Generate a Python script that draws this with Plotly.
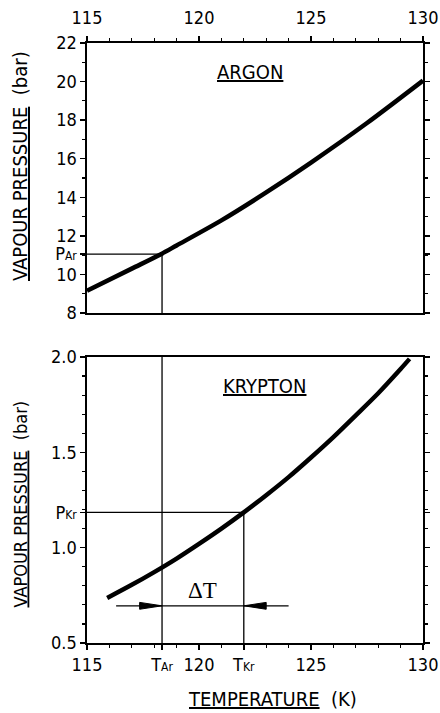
import plotly.graph_objects as go

# ---------------- data ----------------
T_ar = [115.0, 117.0, 118.3, 119.0, 121.0, 123.0, 125.0, 127.5, 130.0]
P_ar = [9.15, 10.3, 11.05, 11.5, 12.8, 14.25, 15.8, 17.85, 20.05]

T_kr = [115.9, 117.0, 118.0, 119.0, 120.0, 121.0, 122.0, 123.0, 124.0,
        125.0, 126.0, 127.0, 128.0, 129.0, 129.4]
P_kr = [0.736, 0.805, 0.872, 0.943, 1.02, 1.10, 1.185, 1.275, 1.37,
        1.473, 1.58, 1.694, 1.81, 1.937, 1.99]

T_AR = 118.35
P_AR = 11.05
T_KR = 122.0
P_KR = 1.185

x_ticks = [115, 120, 125, 130]
top_y_ticks = [8, 10, 12, 14, 16, 18, 20, 22]
bot_y_ticks = [0.5, 1.0, 1.5, 2.0]
bot_y_ticktext = ["0.5", "1.0", "1.5", "2.0"]

dT_span = [116.3, 124.0]
dT_P = 0.695

# ---------------- style ----------------
NARROW = "Liberation Sans Narrow, Arial Narrow, DejaVu Sans Condensed, sans-serif"
TICKFONT = dict(family=NARROW, size=18, color="black")
SMALL = "<span style='font-size:12px'>{}</span>"

fig = go.Figure()

# curves
fig.add_trace(go.Scatter(x=T_ar, y=P_ar, mode="lines", xaxis="x", yaxis="y",
                         line=dict(color="black", width=4.5, shape="spline", smoothing=0.8),
                         hoverinfo="skip", showlegend=False))
fig.add_trace(go.Scatter(x=T_kr, y=P_kr, mode="lines", xaxis="x2", yaxis="y2",
                         line=dict(color="black", width=4.5, shape="spline", smoothing=0.8),
                         hoverinfo="skip", showlegend=False))

thin = dict(color="black", width=1.3)
# argon reference lines
fig.add_trace(go.Scatter(x=[115, T_AR, T_AR], y=[P_AR, P_AR, 8], mode="lines",
                         xaxis="x", yaxis="y", line=thin, hoverinfo="skip", showlegend=False))
# krypton reference lines
fig.add_trace(go.Scatter(x=[T_AR, T_AR], y=[0.5, 2.0], mode="lines",
                         xaxis="x2", yaxis="y2", line=thin, hoverinfo="skip", showlegend=False))
fig.add_trace(go.Scatter(x=[115, T_KR, T_KR], y=[P_KR, P_KR, 0.5], mode="lines",
                         xaxis="x2", yaxis="y2", line=thin, hoverinfo="skip", showlegend=False))
# delta T arrow line
fig.add_trace(go.Scatter(x=dT_span, y=[dT_P, dT_P], mode="lines",
                         xaxis="x2", yaxis="y2", line=thin, hoverinfo="skip", showlegend=False))
# arrow heads (filled triangles, tips at T_AR and T_KR)
L = 1.0
h = 0.018
fig.add_trace(go.Scatter(x=[T_AR - L, T_AR, T_AR - L, T_AR - L],
                         y=[dT_P + h, dT_P, dT_P - h, dT_P + h],
                         mode="lines", fill="toself", fillcolor="black",
                         line=dict(color="black", width=1), xaxis="x2", yaxis="y2",
                         hoverinfo="skip", showlegend=False))
fig.add_trace(go.Scatter(x=[T_KR + L, T_KR, T_KR + L, T_KR + L],
                         y=[dT_P + h, dT_P, dT_P - h, dT_P + h],
                         mode="lines", fill="toself", fillcolor="black",
                         line=dict(color="black", width=1), xaxis="x2", yaxis="y2",
                         hoverinfo="skip", showlegend=False))

common = dict(showline=True, linecolor="black", linewidth=1.6, ticks="outside",
              tickcolor="black", tickwidth=1.4, ticklen=5, showgrid=False,
              zeroline=False, tickfont=TICKFONT, tickangle=0, fixedrange=True,
              automargin=False)

fig.update_layout(
    width=440, height=713, autosize=False,
    margin=dict(l=87, r=17, t=43, b=70),
    paper_bgcolor="white", plot_bgcolor="white",
    showlegend=False,
    xaxis=dict(common, domain=[0, 1], anchor="y", side="top", range=[115, 130],
               mirror=True, tickmode="array", tickvals=x_ticks,
               ticktext=[str(v) for v in x_ticks], ticklabelstandoff=5,
               minor=dict(tickmode="linear", tick0=115, dtick=1, ticklen=3,
                          tickwidth=1.2, tickcolor="black", ticks="outside", showgrid=False)),
    yaxis=dict(common, domain=[0.55, 1], anchor="x", range=[8, 22],
               mirror="allticks", tickmode="array",
               tickvals=top_y_ticks + [P_AR],
               ticktext=[str(v) for v in top_y_ticks] + ["P" + SMALL.format("Ar")],
               minor=dict(tickmode="linear", tick0=8, dtick=1, ticklen=3,
                          tickwidth=1.2, tickcolor="black", ticks="outside", showgrid=False)),
    xaxis2=dict(common, domain=[0, 1], anchor="y2", side="bottom", range=[115, 130],
                mirror=True, tickmode="array",
                tickvals=[115, T_AR, 120, T_KR, 125, 130],
                ticktext=["115", "T" + SMALL.format("Ar"), "120", "T" + SMALL.format("Kr"), "125", "130"],
                minor=dict(tickmode="linear", tick0=115, dtick=1, ticklen=3,
                           tickwidth=1.2, tickcolor="black", ticks="outside", showgrid=False)),
    yaxis2=dict(common, domain=[0, 0.4767], anchor="x2", range=[0.5, 2.0],
                mirror="allticks", tickmode="array",
                tickvals=bot_y_ticks + [P_KR],
                ticktext=bot_y_ticktext + ["P" + SMALL.format("Kr")],
                minor=dict(tickmode="linear", tick0=0.5, dtick=0.1, ticklen=3,
                           tickwidth=1.2, tickcolor="black", ticks="outside", showgrid=False)),
)

TITLEFONT = dict(family=NARROW, size=20, color="black")
ann = [
    dict(text="<u>VAPOUR PRESSURE</u>  (bar)", textangle=-90, xref="paper", yref="paper",
         x=(20 - 87) / 336, y=(643 - 283) / 600, xanchor="center", yanchor="bottom",
         showarrow=False, font=TITLEFONT),
    dict(text="<u>VAPOUR PRESSURE</u>  (bar)", textangle=-90, xref="paper", yref="paper",
         x=(20 - 87) / 336, y=(643 - 610) / 600, xanchor="center", yanchor="bottom",
         showarrow=False, font=dict(TITLEFONT, size=18)),
    dict(text="<u>TEMPERATURE</u>  (K)", xref="paper", yref="paper",
         x=(272 - 87) / 336, y=(643 - 699) / 600, xanchor="center", yanchor="middle",
         showarrow=False, font=TITLEFONT),
    dict(text="<u>ARGON</u>", xref="paper", yref="paper",
         x=(250 - 87) / 336, y=(643 - 72) / 600, xanchor="center", yanchor="middle",
         showarrow=False, font=TITLEFONT),
    dict(text="<u>KRYPTON</u>", xref="paper", yref="paper",
         x=(264 - 87) / 336, y=(643 - 386) / 600, xanchor="center", yanchor="middle",
         showarrow=False, font=TITLEFONT),
    dict(text="ΔT", xref="x2", yref="y2", x=(T_AR + T_KR) / 2, y=0.775,
         xanchor="center", yanchor="middle", showarrow=False,
         font=dict(family="Liberation Serif, Times New Roman, serif", size=23, color="black")),
]
fig.update_layout(annotations=ann)

fig.write_html(
    "out.html",
    config={"displayModeBar": False, "staticPlot": True},
    post_script=("document.body.style.margin='0';"
                 "document.body.style.overflow='hidden';"
                 "document.documentElement.style.overflow='hidden';"),
)
